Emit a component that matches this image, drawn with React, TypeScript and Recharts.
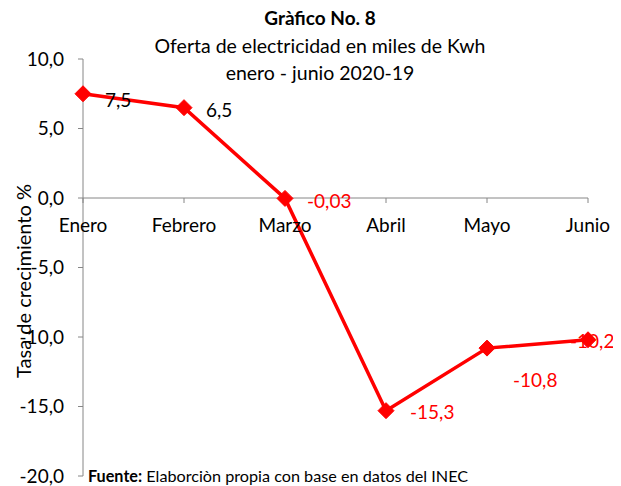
import { Line, LineChart, LabelList, ReferenceDot, ReferenceLine, XAxis, YAxis } from "recharts";

const months = ["Enero", "Febrero", "Marzo", "Abril", "Mayo", "Junio"];
const growth = [7.5, 6.5, -0.03, -15.3, -10.8, -10.2];
const yTicks = [-20, -15, -10, -5, 0, 5, 10];

const data = months.map((month, i) => ({ month, value: growth[i] }));

const FONT = "Lato, 'Open Sans', sans-serif";
const RED = "#ff0000";
const AXIS = "#868686";
const FS = 19;

const fmtLabel = (v: number) => String(v).replace(".", ",");
const fmtTick = (v: number) => v.toFixed(1).replace(".", ",");

// label placement relative to each point (Excel put a couple of them below / left)
const labelShift: [number, number][] = [
  [22, 6],
  [22, 2],
  [22, 2],
  [24, 1],
  [26, 31],
  [-18, 1],
];

const Diamond = (props: any) => {
  const { cx, cy } = props;
  if (cx == null || cy == null) return null;
  const s = 8;
  return (
    <polygon
      points={`${cx},${cy - s} ${cx + s},${cy} ${cx},${cy + s} ${cx - s},${cy}`}
      fill={RED}
      stroke={RED}
    />
  );
};

const PointLabel = (props: any) => {
  const { x, y, value, index } = props;
  const [dx, dy] = labelShift[index] || [20, 0];
  return (
    <text
      x={x + dx}
      y={y + dy}
      dominantBaseline="central"
      fontSize={FS}
      fontFamily={FONT}
      fill={value < 0 ? RED : "#000"}
    >
      {fmtLabel(value)}
    </text>
  );
};

const CategoryTick = (props: any) => {
  const { cx, cy, label } = props;
  return (
    <g>
      <line x1={cx} y1={cy} x2={cx} y2={cy + 5} stroke={AXIS} strokeWidth={1} />
      <text x={cx} y={cy + 34} textAnchor="middle" fontSize={FS} fontFamily={FONT} fill="#000">
        {label}
      </text>
    </g>
  );
};

export default function App() {
  return (
    <div style={{ position: "relative", width: 613, height: 478, fontFamily: FONT, color: "#000" }}>
      <div style={{ position: "absolute", left: 0, width: 624, top: 0, lineHeight: "20px", textAlign: "center", fontSize: 19, fontWeight: 700 }}>
        Gràfico No. 8
      </div>
      <div style={{ position: "absolute", left: 0, width: 624, top: 28, lineHeight: "20px", textAlign: "center", fontSize: 19.5 }}>
        Oferta de electricidad en miles de Kwh
      </div>
      <div style={{ position: "absolute", left: 0, width: 624, top: 55, lineHeight: "20px", textAlign: "center", fontSize: 19.5 }}>
        enero - junio 2020-19
      </div>
      <div
        style={{
          position: "absolute",
          left: 15 - 120,
          top: 263,
          width: 240,
          lineHeight: "20px",
          textAlign: "center",
          fontSize: 20,
          whiteSpace: "nowrap",
          transform: "rotate(-90deg)",
        }}
      >
        Tasa de crecimiento %
      </div>

      <LineChart
        width={613}
        height={478}
        data={data}
        margin={{ top: 51, right: 33, bottom: 10, left: 0 }}
        style={{ overflow: "visible" }}
      >
        <XAxis dataKey="month" hide />
        <YAxis
          width={75}
          domain={[-20, 10]}
          ticks={yTicks}
          interval={0}
          tickFormatter={fmtTick}
          tick={{ fontSize: FS, fontFamily: FONT, fill: "#000" }}
          axisLine={{ stroke: AXIS }}
          tickLine={{ stroke: AXIS }}
          tickSize={5}
          tickMargin={14}
        />
        <ReferenceLine y={0} stroke={AXIS} strokeWidth={1} />
        {months.map((m) => (
          <ReferenceDot key={m} x={m} y={0} r={0} shape={(p: any) => <CategoryTick {...p} label={m} />} />
        ))}
        <Line
          type="linear"
          dataKey="value"
          stroke={RED}
          strokeWidth={3.5}
          dot={<Diamond />}
          activeDot={false}
          isAnimationActive={false}
        >
          <LabelList dataKey="value" content={<PointLabel />} />
        </Line>
      </LineChart>

      <div style={{ position: "absolute", left: 80, top: 458, lineHeight: "20px", fontSize: 16.2, whiteSpace: "nowrap" }}>
        <b>Fuente:</b> Elaborciòn propia con base en datos del INEC
      </div>
    </div>
  );
}
